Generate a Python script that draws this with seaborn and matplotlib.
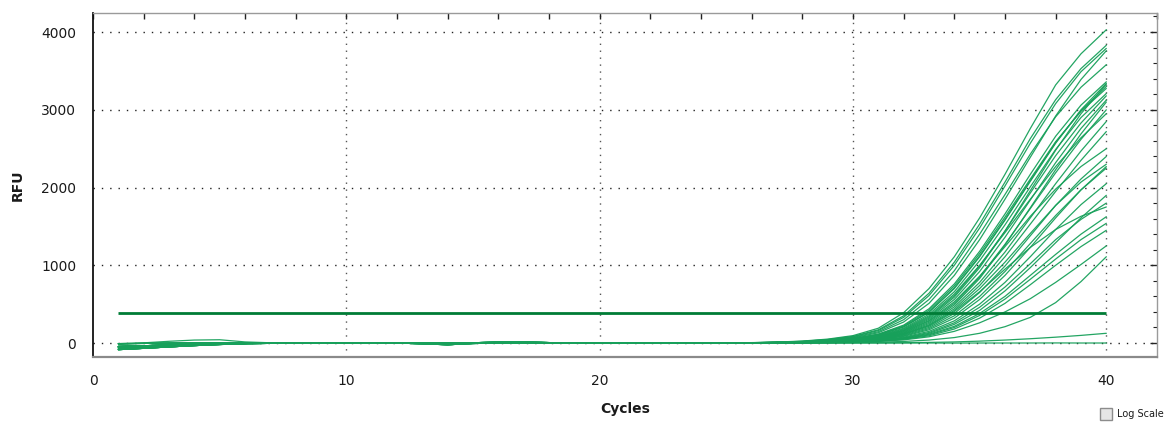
import matplotlib
matplotlib.use("Agg")
import matplotlib.pyplot as plt
import pandas as pd
import seaborn as sns
from matplotlib.patches import Rectangle
from matplotlib.ticker import MultipleLocator

CYCLES = list(range(1, 41))
THRESHOLD = 390

# Background-phase RFU shapes for cycles 1-25
BASE_A = [-85, -68, -50, -33, -19, -9, -4, -1, 0, 0, 1, 0, 0, -1, 0, 0, 1, 1, 0, 0, 0, 1, 1, 2, 2]
BASE_B = [-45, -36, -24, -14, -7, -3, -1, 0, 0, 1, 0, 0, 0, 0, 0, 1, 0, 0, 0, 1, 0, 1, 1, 1, 2]
BASE_C = [-20, 2, 22, 38, 42, 14, 3, 0, 0, 0, 0, 0, -1, 0, 0, 0, 0, 0, 1, 0, 0, 1, 1, 1, 1]
BASE_D = [-62, -48, -33, -20, -11, -5, -2, 0, 0, 0, 0, 0, -10, -22, -6, 0, 0, 0, 0, 0, 0, 0, 1, 1, 1]
BASE_E = [-8, -5, -2, 0, 0, 0, 0, 0, 1, 0, 0, 0, 0, 0, 2, 14, 16, 5, 0, 0, 0, 0, 1, 1, 1]

# Amplification-phase RFU for cycles 26-40, one list per well
A1 = [5, 12, 25, 50, 95, 190, 390, 700, 1110, 1610, 2170, 2760, 3320, 3720, 4030]
A2 = [4, 10, 22, 45, 85, 170, 350, 640, 1040, 1530, 2070, 2630, 3130, 3530, 3830]
A3 = [4, 10, 20, 42, 80, 160, 330, 610, 1000, 1480, 2020, 2570, 3080, 3490, 3790]
A4 = [3, 8, 17, 35, 66, 132, 270, 510, 870, 1330, 1850, 2390, 2920, 3390, 3760]
A5 = [3, 9, 18, 38, 72, 145, 300, 560, 930, 1400, 1910, 2430, 2910, 3290, 3580]
A6 = [3, 8, 15, 30, 58, 115, 230, 440, 760, 1180, 1660, 2170, 2660, 3060, 3360]
B1 = [2, 7, 13, 27, 52, 102, 205, 395, 700, 1110, 1580, 2080, 2570, 3000, 3340]
B2 = [2, 5, 10, 21, 41, 81, 162, 320, 590, 970, 1440, 1960, 2480, 2950, 3330]
B3 = [3, 7, 14, 28, 54, 105, 210, 400, 710, 1120, 1590, 2090, 2580, 2990, 3300]
B4 = [2, 7, 14, 29, 56, 110, 220, 420, 735, 1150, 1620, 2110, 2590, 2980, 3275]
B5 = [2, 6, 12, 25, 48, 95, 190, 370, 660, 1060, 1520, 2010, 2490, 2900, 3210]
B6 = [2, 6, 11, 22, 43, 85, 170, 335, 610, 990, 1440, 1930, 2410, 2830, 3180]
C1 = [2, 5, 10, 20, 39, 77, 155, 305, 560, 920, 1360, 1840, 2320, 2760, 3125]
C2 = [2, 4, 9, 17, 33, 66, 132, 265, 490, 830, 1260, 1740, 2230, 2690, 3100]
C3 = [2, 5, 9, 18, 35, 70, 140, 280, 510, 850, 1270, 1730, 2190, 2620, 3000]
C4 = [2, 6, 12, 24, 46, 90, 180, 350, 630, 1000, 1420, 1850, 2270, 2640, 2950]
C5 = [2, 4, 8, 16, 31, 62, 125, 250, 465, 780, 1170, 1610, 2050, 2470, 2850]
C6 = [1, 4, 8, 15, 29, 58, 118, 235, 440, 740, 1110, 1530, 1950, 2350, 2720]
D1 = [2, 5, 10, 19, 37, 73, 148, 290, 530, 860, 1240, 1630, 1980, 2270, 2500]
D2 = [1, 3, 7, 13, 25, 50, 100, 200, 380, 650, 990, 1380, 1770, 2110, 2400]
D3 = [1, 4, 7, 14, 28, 56, 112, 225, 420, 700, 1040, 1410, 1770, 2070, 2300]
D4 = [1, 3, 6, 11, 21, 42, 85, 170, 320, 560, 870, 1230, 1610, 1970, 2270]
D5 = [1, 3, 6, 12, 23, 46, 92, 185, 350, 600, 920, 1280, 1640, 1970, 2250]
D6 = [1, 3, 5, 10, 19, 37, 75, 150, 285, 500, 780, 1110, 1460, 1780, 2050]
E1 = [1, 2, 4, 8, 16, 31, 62, 124, 240, 420, 670, 970, 1290, 1610, 1900]
E2 = [1, 2, 5, 9, 17, 34, 68, 135, 260, 460, 720, 1020, 1330, 1590, 1800]
E3 = [1, 4, 7, 14, 27, 54, 108, 215, 405, 660, 950, 1230, 1460, 1630, 1750]
E4 = [1, 2, 4, 8, 15, 29, 57, 113, 215, 380, 600, 870, 1140, 1400, 1625]
E5 = [1, 2, 4, 7, 14, 27, 52, 104, 200, 355, 565, 820, 1080, 1330, 1540]
E6 = [1, 2, 3, 6, 12, 24, 47, 93, 180, 320, 510, 750, 1000, 1240, 1450]
F1 = [0, 1, 3, 5, 10, 20, 40, 80, 150, 260, 400, 570, 780, 1010, 1250]
F2 = [0, 1, 2, 3, 6, 11, 20, 38, 70, 125, 210, 330, 520, 790, 1110]
F3 = [0, 0, 0, 0, 1, 2, 4, 8, 14, 24, 38, 55, 75, 98, 125]
F4 = [0, 0, 0, 0, 0, 0, 0, 0, -1, 0, 0, 0, 1, 0, 0]

WELLS = {
    "A1": (BASE_A, A1), "A2": (BASE_B, A2), "A3": (BASE_D, A3), "A4": (BASE_B, A4),
    "A5": (BASE_E, A5), "A6": (BASE_A, A6), "B1": (BASE_B, B1), "B2": (BASE_D, B2),
    "B3": (BASE_A, B3), "B4": (BASE_B, B4), "B5": (BASE_E, B5), "B6": (BASE_D, B6),
    "C1": (BASE_A, C1), "C2": (BASE_B, C2), "C3": (BASE_C, C3), "C4": (BASE_D, C4),
    "C5": (BASE_B, C5), "C6": (BASE_A, C6), "D1": (BASE_E, D1), "D2": (BASE_B, D2),
    "D3": (BASE_D, D3), "D4": (BASE_A, D4), "D5": (BASE_B, D5), "D6": (BASE_E, D6),
    "E1": (BASE_D, E1), "E2": (BASE_A, E2), "E3": (BASE_B, E3), "E4": (BASE_E, E4),
    "E5": (BASE_D, E5), "E6": (BASE_B, E6), "F1": (BASE_A, F1), "F2": (BASE_E, F2),
    "F3": (BASE_B, F3), "F4": (BASE_D, F4),
}

rows = []
for well, (base, late) in WELLS.items():
    for cycle, rfu in zip(CYCLES, base + late):
        rows.append({"Well": well, "Cycle": cycle, "RFU": rfu})
df = pd.DataFrame(rows)

sns.set_style("white")
plt.rcParams["font.family"] = ["DejaVu Sans"]

CURVE_GREEN = "#17a05a"
THRESH_GREEN = "#007c36"
TEXT = "#1a1a1a"

fig = plt.figure(figsize=(11.73, 4.23), dpi=100)
ax = fig.add_axes([93 / 1173, 1 - 357 / 423, (1157 - 93) / 1173, (357 - 13) / 423])

# dotted grid
for y in range(0, 4001, 1000):
    ax.axhline(y, color="#222222", lw=1.0, ls=(0, (1, 5)), zorder=0)
for x in range(10, 41, 10):
    ax.axvline(x, color="#555555", lw=1.0, ls=(0, (1, 4)), zorder=0)

sns.lineplot(data=df, x="Cycle", y="RFU", units="Well", estimator=None,
             color=CURVE_GREEN, lw=0.9, alpha=0.95, legend=False, ax=ax, zorder=2)

ax.plot([CYCLES[0], CYCLES[-1]], [THRESHOLD, THRESHOLD], color=THRESH_GREEN,
        lw=2.0, solid_capstyle="butt", zorder=3)

ax.set_xlim(0, 42)
ax.set_ylim(-180, 4245)

ax.xaxis.set_major_locator(MultipleLocator(10))
ax.xaxis.set_minor_locator(MultipleLocator(2))
ax.yaxis.set_major_locator(MultipleLocator(1000))
ax.yaxis.set_minor_locator(MultipleLocator(200))
ax.set_xticks([0, 10, 20, 30, 40])
ax.set_yticks([0, 1000, 2000, 3000, 4000])

ax.tick_params(axis="x", which="major", direction="inout", length=12, width=1.2,
               color="#111111", labelsize=10, labelcolor=TEXT, pad=6)
ax.tick_params(axis="x", which="minor", direction="out", length=5, width=1.0,
               color="#111111")
ax.tick_params(axis="y", which="major", direction="inout", length=14, width=1.2,
               color="#111111", labelsize=10, labelcolor=TEXT, pad=5)
ax.tick_params(axis="y", which="minor", direction="inout", length=7, width=1.0,
               color="#111111")

top = ax.secondary_xaxis("top")
top.xaxis.set_major_locator(MultipleLocator(10))
top.xaxis.set_minor_locator(MultipleLocator(2))
top.tick_params(which="both", direction="in", length=4, width=1.0, color="#222222",
                labeltop=False)
right = ax.secondary_yaxis("right")
right.yaxis.set_major_locator(MultipleLocator(1000))
right.yaxis.set_minor_locator(MultipleLocator(200))
right.tick_params(which="major", direction="in", length=5, width=1.0, color="#222222",
                  labelright=False)
right.tick_params(which="minor", direction="in", length=3, width=0.8, color="#222222",
                  labelright=False)
for sec in (top, right):
    for sp in sec.spines.values():
        sp.set_visible(False)

ax.spines["left"].set_color("#111111")
ax.spines["left"].set_linewidth(1.3)
ax.spines["bottom"].set_color("#8a8a8a")
ax.spines["bottom"].set_linewidth(1.6)
ax.spines["top"].set_color("#9a9a9a")
ax.spines["top"].set_linewidth(1.0)
ax.spines["right"].set_color("#9a9a9a")
ax.spines["right"].set_linewidth(1.0)

ax.set_xlabel("Cycles", fontsize=10, fontweight="bold", color=TEXT, labelpad=10)
ax.set_ylabel("RFU", fontsize=10, fontweight="bold", color=TEXT, labelpad=12)

# "Log Scale" checkbox
fig.patches.append(Rectangle((1100 / 1173, 1 - 420 / 423), 12 / 1173, 12 / 423,
                             transform=fig.transFigure, facecolor="#e6e6e6",
                             edgecolor="#8c8c8c", lw=1.0))
fig.text(1117 / 1173, 1 - 414 / 423, "Log Scale", fontsize=7, color=TEXT,
         va="center", ha="left")

fig.savefig("out.png", dpi=100)
